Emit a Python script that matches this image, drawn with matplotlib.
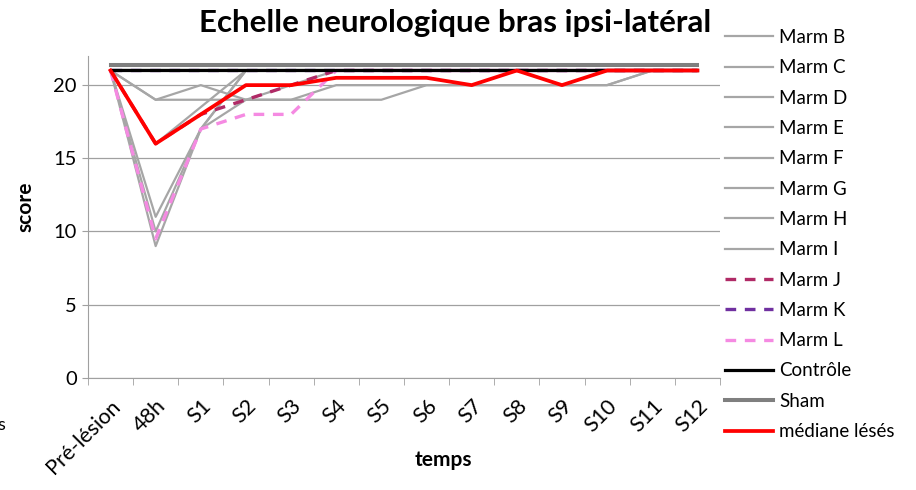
import numpy as np
import matplotlib.pyplot as plt
from matplotlib.ticker import FixedLocator

plt.rcParams['font.family'] = ['Lato', 'DejaVu Sans']

temps = ['Pré-lésion', '48h', 'S1', 'S2', 'S3', 'S4', 'S5', 'S6',
         'S7', 'S8', 'S9', 'S10', 'S11', 'S12']

# scores par animal (lésés)
marm_b = [21, 19, 19, 19, 19, 19, 19, 20, 20, 20, 20, 20, 21, 21]
marm_c = [21, 19, 20, 19, 20, 21, 21, 21, 21, 21, 21, 21, 21, 21]
marm_d = [21, 16, 18.5, 21, 21, 21, 21, 21, 21, 21, 21, 21, 21, 21]
marm_e = [21, 11, 17, 21, 21, 21, 21, 21, 21, 21, 21, 21, 21, 21]
marm_f = [21, 10, 17, 21, 21, 21, 21, 21, 21, 21, 21, 21, 21, 21]
marm_g = [21, 9, 17, 19, 19, 20, 20, 20, 20, 20, 20, 20, 21, 21]
marm_h = [21, 21, 21, 21, 21, 21, 21, 21, 21, 21, 21, 21, 21, 21]
marm_i = [21, 21, 21, 21, 21, 21, 21, 21, 21, 21, 21, 21, 21, 21]
marm_j = [21, 16, 18, 19, 20, 21, 21, 21, 21, 21, 21, 21, 21, 21]
marm_k = [21, 21, 21, 21, 21, 21, 21, 21, 21, 21, 21, 21, 21, 21]
marm_l = [21, 9.5, 17, 18, 18, 21, 21, 21, 21, 21, 21, 21, 21, 21]
controle = [21] * 14
sham = [21.35] * 14
mediane = [21, 16, 18, 20, 20, 20.5, 20.5, 20.5, 20, 21, 20, 21, 21, 21]

x = np.arange(len(temps))

fig = plt.figure(figsize=(9.16, 4.9), dpi=100)
ax = fig.add_axes([0.096, 0.229, 0.690, 0.657])

gris = '#A6A6A6'
for nom, vals in [('Marm B', marm_b), ('Marm C', marm_c), ('Marm D', marm_d),
                  ('Marm E', marm_e), ('Marm F', marm_f), ('Marm G', marm_g),
                  ('Marm H', marm_h), ('Marm I', marm_i)]:
    ax.plot(x, vals, color=gris, lw=1.6, label=nom)

ax.plot(x, marm_j, color='#B02A66', lw=2.4, dashes=(3.2, 2.6), label='Marm J')
ax.plot(x, marm_k, color='#7030A0', lw=2.4, dashes=(3.2, 2.6), label='Marm K')
ax.plot(x, marm_l, color='#F58AE2', lw=2.4, dashes=(3.2, 2.6), label='Marm L')
ax.plot(x, controle, color='black', lw=2.3, label='Contrôle')
ax.plot(x, sham, color='#7F7F7F', lw=2.9, label='Sham')
ax.plot(x, mediane, color='#FF0000', lw=2.7, label='médiane lésés')

ax.set_xlim(-0.5, len(temps) - 0.5)
ax.set_ylim(0, 22)
ax.set_yticks([0, 5, 10, 15, 20])
ax.yaxis.grid(True, color='#A0A0A0', lw=0.9)
ax.set_axisbelow(True)

ax.set_xticks(x)
ax.set_xticklabels(temps, rotation=45, ha='right', rotation_mode='anchor', fontsize=15.5)
ax.xaxis.set_minor_locator(FixedLocator(np.arange(-0.5, len(temps), 1)))
ax.tick_params(axis='x', which='major', length=0, pad=13)
ax.tick_params(axis='x', which='minor', length=5, color='#A0A0A0')
ax.tick_params(axis='y', length=4, color='#A0A0A0', labelsize=14.5, pad=4)

for s in ['top', 'right']:
    ax.spines[s].set_visible(False)
for s in ['left', 'bottom']:
    ax.spines[s].set_color('#A0A0A0')

ax.set_xlabel('temps', fontsize=15, fontweight='bold')
ax.xaxis.set_label_coords(0.562, -0.225)
ax.set_ylabel('score', fontsize=15, fontweight='bold')
ax.yaxis.set_label_coords(-0.083, 0.53)

fig.text(0.497, 0.953, 'Echelle neurologique bras ipsi-latéral',
         ha='center', va='center', fontsize=22.5, fontweight='bold')

fig.legend(loc='upper left', bbox_to_anchor=(0.783, 0.956), frameon=False,
           fontsize=13.5, handlelength=2.6, handletextpad=0.3,
           labelspacing=0.71, borderaxespad=0)

fig.text(-0.003, 0.133, 's', fontsize=13, ha='left', va='center')

fig.savefig('out.png', dpi=100)
